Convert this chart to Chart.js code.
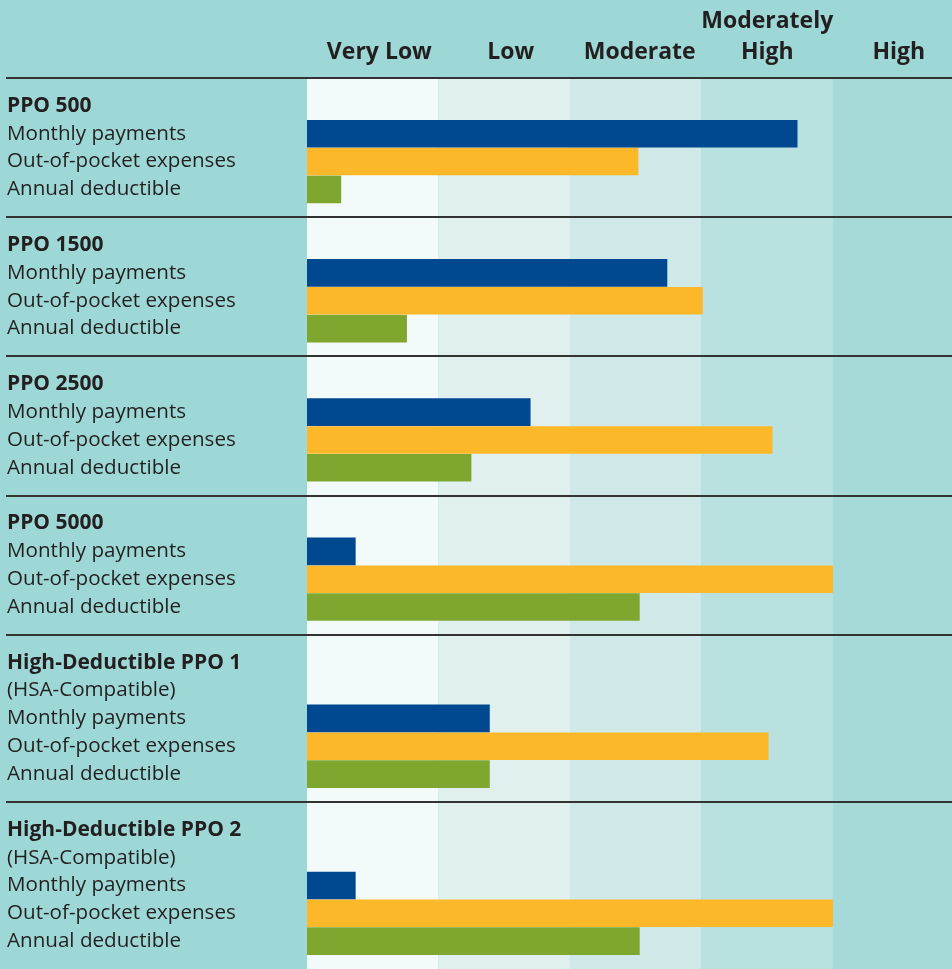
<!DOCTYPE html>
<html>
<head>
<meta charset="utf-8">
<script src="https://cdn.jsdelivr.net/npm/chart.js@4.4.1/dist/chart.umd.min.js"></script>
<style>
    html, body { margin: 0; padding: 0; background: #9dd8d6; }
    #wrap { width: 952px; height: 969px; position: relative; }
</style>
</head>
<body>
<div id="wrap"><canvas id="planChart"></canvas></div>
<script>
// ==========================================
// Data (1 unit = one level band)
// ==========================================
const plans = ["PPO 500", "PPO 1500", "PPO 2500", "PPO 5000", "High-Deductible PPO 1", "High-Deductible PPO 2"];
const planNotes = ["", "", "", "", "(HSA-Compatible)", "(HSA-Compatible)"];
const metrics = ["Monthly payments", "Out-of-pocket expenses", "Annual deductible"];
const levels = ["Very Low", "Low", "Moderate", ["Moderately", "High"], "High"];

const monthly     = [3.73, 2.74, 1.70, 0.37, 1.39, 0.37];
const outOfPocket = [2.52, 3.01, 3.54, 4.00, 3.51, 4.00];
const deductible  = [0.26, 0.76, 1.25, 2.53, 1.39, 2.53];

const bandColors = ["#f3fbfa", "#dff0ef", "#cfe8e8", "#b8e1df", "#a5dad8"];
const seriesColors = ["#004990", "#fdb82a", "#7fa72f"];

// ==========================================
// Build the row layout
// ==========================================
const rows = [];
plans.forEach((plan, i) => {
    rows.push({ kind: "sep", text: "" });
    rows.push({ kind: "head", text: plan });
    if (planNotes[i]) rows.push({ kind: "note", text: planNotes[i] });
    metrics.forEach((m, k) => rows.push({ kind: "metric", text: m, plan: i, metric: k }));
});
rows.push({ kind: "end", text: "" });

const seriesValues = [monthly, outOfPocket, deductible];
const datasets = metrics.map((m, k) => ({
    label: m,
    data: rows.map(r => (r.kind === "metric" && r.metric === k) ? seriesValues[k][r.plan] : null),
    backgroundColor: seriesColors[k],
    borderWidth: 0,
    barPercentage: 1,
    categoryPercentage: 0.99,
    grouped: false
}));

// ==========================================
// Plugins: level bands and separator lines
// ==========================================
const bandsPlugin = {
    id: "bands",
    beforeDatasetsDraw(chart) {
        const { ctx, chartArea, scales } = chart;
        ctx.save();
        bandColors.forEach((c, i) => {
            const x0 = scales.x.getPixelForValue(i);
            const x1 = Math.min(scales.x.getPixelForValue(i + 1), chartArea.right);
            ctx.fillStyle = c;
            ctx.fillRect(x0, chartArea.top, x1 - x0, chartArea.bottom - chartArea.top);
        });
        ctx.restore();
    }
};

const separatorPlugin = {
    id: "separators",
    afterDatasetsDraw(chart) {
        const { ctx, chartArea, scales } = chart;
        ctx.save();
        ctx.strokeStyle = "#333333";
        ctx.lineWidth = 2;
        rows.forEach((r, i) => {
            if (r.kind !== "sep") return;
            const y = Math.round(scales.y.getPixelForValue(i));
            ctx.beginPath();
            ctx.moveTo(6, y);
            ctx.lineTo(chartArea.right, y);
            ctx.stroke();
        });
        ctx.restore();
    }
};

// ==========================================
// Chart
// ==========================================
const fontFamily = "'Open Sans', 'Noto Sans', sans-serif";
// header label spots inside each band (slightly right of centre, as printed)
const levelSpots = [0.55, 1.55, 2.53, 3.5, 4.5];

new Chart(document.getElementById("planChart").getContext("2d"), {
    type: "bar",
    data: {
        labels: rows.map(r => r.text),
        datasets: datasets
    },
    options: {
        indexAxis: "y",
        responsive: true,
        maintainAspectRatio: false,
        animation: false,
        layout: { padding: { left: 7, right: 0, top: 0, bottom: 0 } },
        plugins: {
            legend: { display: false },
            tooltip: { enabled: false }
        },
        scales: {
            x: {
                type: "linear",
                position: "top",
                min: 0,
                max: 4.905,
                grid: { display: false, drawTicks: false },
                border: { display: false },
                afterBuildTicks: scale => {
                    scale.ticks = levelSpots.map(v => ({ value: v }));
                },
                afterFit: scale => {
                    scale.height = 78;
                    scale.paddingLeft = 0;
                    scale.paddingRight = 0;
                },
                ticks: {
                    padding: 10,
                    color: "#231f20",
                    maxRotation: 0,
                    font: { family: fontFamily, size: 23, weight: "bold", lineHeight: 1.35 },
                    callback: (value, index) => levels[index]
                }
            },
            y: {
                type: "category",
                offset: false,
                grid: { display: false, drawTicks: false },
                border: { display: false },
                afterFit: scale => {
                    scale.width = 300;
                    scale.paddingTop = 0;
                    scale.paddingBottom = 0;
                },
                ticks: {
                    autoSkip: false,
                    crossAlign: "far",
                    padding: 0,
                    color: "#231f20",
                    font: ctx => {
                        const r = rows[ctx.index];
                        const bold = r && r.kind === "head";
                        return {
                            family: fontFamily,
                            size: bold ? 21 : 20.6,
                            weight: bold ? "bold" : "normal"
                        };
                    }
                }
            }
        }
    },
    plugins: [bandsPlugin, separatorPlugin]
});
</script>
</body>
</html>
